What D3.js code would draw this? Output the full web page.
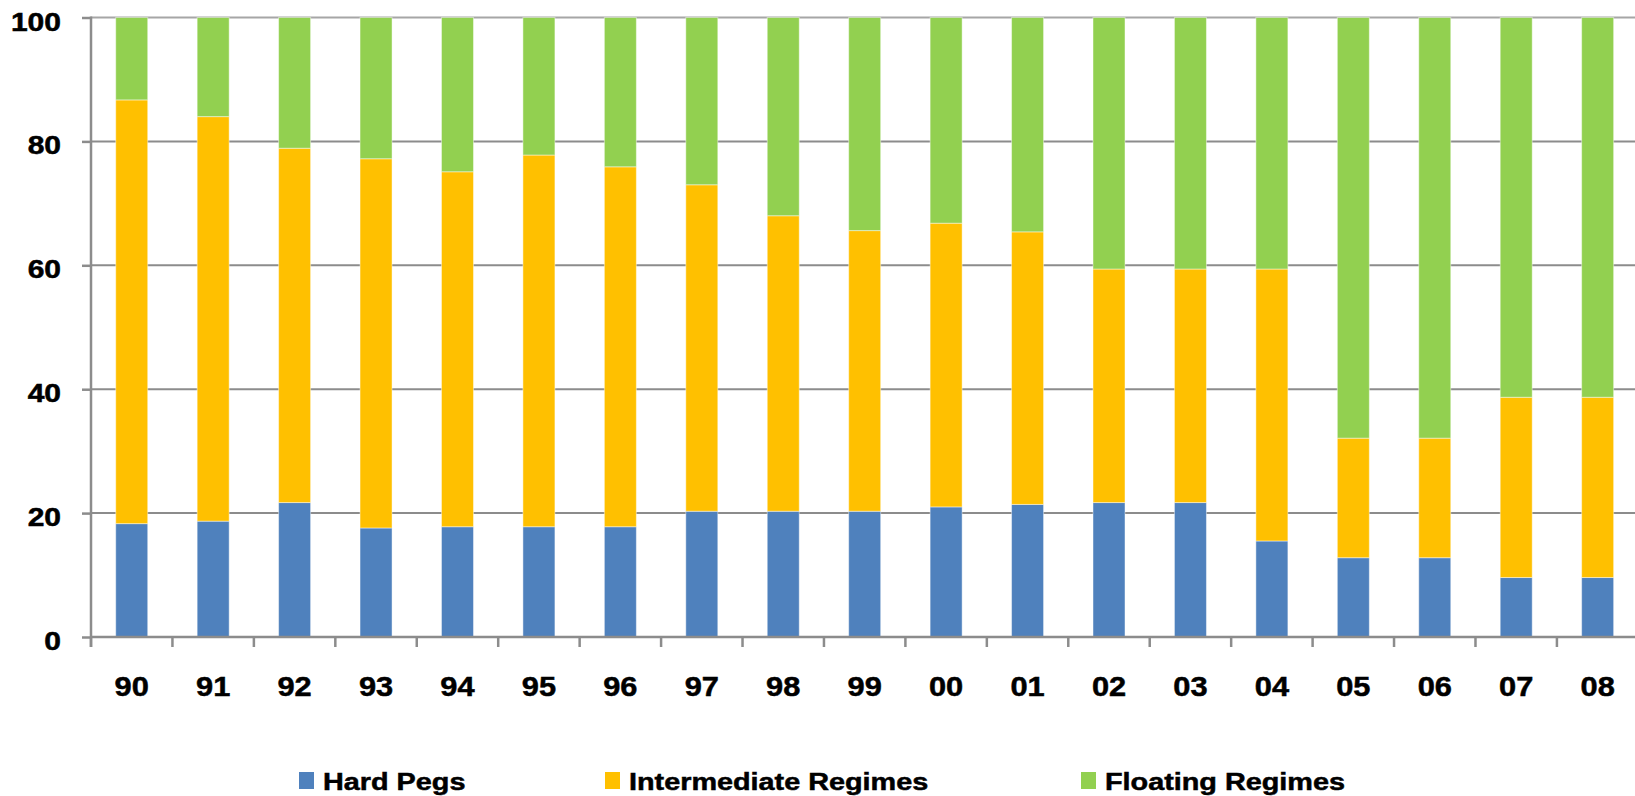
<!DOCTYPE html>
<html>
<head>
<meta charset="utf-8">
<script src="https://cdn.jsdelivr.net/npm/d3@7"></script>
<style>
  body { margin: 0; background: #fff; }
  svg { display: block; font-family: "Liberation Sans", Arial, sans-serif; font-weight: bold; }
  text { fill: #000; stroke: #000; stroke-width: 0.5px; }
</style>
</head>
<body>
<div id="chart"></div>
<script>
// Categories (years)
const years = ["90", "91", "92", "93", "94", "95", "96", "97", "98", "99",
  "00", "01", "02", "03", "04", "05", "06", "07", "08"];

// Series values (percent of countries)
const hardPegs = [18.3, 18.7, 21.7, 17.6, 17.8, 17.8, 17.8, 20.3, 20.3, 20.3,
  21.0, 21.4, 21.7, 21.7, 15.5, 12.8, 12.8, 9.6, 9.6];
const intermediate = [68.4, 65.3, 57.2, 59.6, 57.3, 60.0, 58.1, 52.7, 47.7, 45.3,
  45.8, 44.0, 37.7, 37.7, 43.9, 19.3, 19.3, 29.1, 29.1];
const floating = [13.3, 16.0, 21.1, 22.8, 24.9, 22.2, 24.1, 27.0, 32.0, 34.4,
  33.2, 34.6, 40.6, 40.6, 40.6, 67.9, 67.9, 61.3, 61.3];

// Tick labels and legend names
const yTicks = [0, 20, 40, 60, 80, 100];
const seriesNames = ["Hard Pegs", "Intermediate Regimes", "Floating Regimes"];
const seriesKeys = ["hard", "inter", "float"];
const colors = ["#4f81bd", "#ffc000", "#92d050"];

const width = 1635;
const height = 796;
const plotLeft = 91;
const plotTop = 17.5;
const plotBottom = 637;
const bandStep = 81.44;
const axisColor = "#8c8c8c";

const rows = years.map((yr, i) => ({
  year: yr, hard: hardPegs[i], inter: intermediate[i], float: floating[i]
}));

const svg = d3.select("#chart").append("svg")
  .attr("width", width)
  .attr("height", height);

const x = d3.scaleBand()
  .domain(years)
  .range([plotLeft, plotLeft + bandStep * years.length]);

const y = d3.scaleLinear()
  .domain([0, 100])
  .range([plotBottom, plotTop]);

// Gridlines
svg.append("g")
  .selectAll("line")
  .data(yTicks.filter(d => d > 0))
  .join("line")
  .attr("x1", plotLeft)
  .attr("x2", width)
  .attr("y1", d => y(d))
  .attr("y2", d => y(d))
  .attr("stroke", d => d === 100 ? "#a6a6a6" : axisColor)
  .attr("stroke-width", 2);

// Stacked bars
const stack = d3.stack().keys(seriesKeys)(rows);
const barW = x.bandwidth() * 0.393;

svg.append("g")
  .selectAll("g")
  .data(stack)
  .join("g")
  .attr("fill", (d, i) => colors[i])
  .selectAll("rect")
  .data(d => d)
  .join("rect")
  .attr("x", d => x(d.data.year) + (x.bandwidth() - barW) / 2)
  .attr("y", d => y(d[1]))
  .attr("width", barW)
  .attr("height", d => y(d[0]) - y(d[1]))
  .attr("stroke", "rgba(255,255,255,0.45)")
  .attr("stroke-width", 1);

// Y axis
const yAxis = svg.append("g")
  .attr("transform", `translate(${plotLeft},0)`)
  .call(d3.axisLeft(y).tickValues(yTicks).tickSize(9).tickFormat(""));
yAxis.select(".domain").remove();
yAxis.selectAll("line").attr("stroke", axisColor).attr("stroke-width", 2.5);
svg.append("line")
  .attr("x1", plotLeft).attr("x2", plotLeft)
  .attr("y1", plotTop - 1).attr("y2", plotBottom + 10)
  .attr("stroke", axisColor)
  .attr("stroke-width", 2.5);

svg.append("g")
  .selectAll("text")
  .data(yTicks)
  .join("text")
  .attr("transform", d => `translate(61,${y(d) + 13}) scale(1.2,1)`)
  .attr("text-anchor", "end")
  .attr("font-size", "25px")
  .text(d => d);

// X axis (ticks at band edges)
svg.append("line")
  .attr("x1", plotLeft).attr("x2", width)
  .attr("y1", plotBottom).attr("y2", plotBottom)
  .attr("stroke", axisColor)
  .attr("stroke-width", 2.5);

svg.append("g")
  .selectAll("line")
  .data(years)
  .join("line")
  .attr("x1", d => x(d))
  .attr("x2", d => x(d))
  .attr("y1", plotBottom)
  .attr("y2", plotBottom + 10)
  .attr("stroke", axisColor)
  .attr("stroke-width", 2.5);

svg.append("g")
  .selectAll("text")
  .data(years)
  .join("text")
  .attr("transform", d => `translate(${x(d) + x.bandwidth() / 2},696) scale(1.1,1)`)
  .attr("text-anchor", "middle")
  .attr("font-size", "28px")
  .text(d => d);

// Legend
const legendX = [299, 605, 1081];
const legend = svg.append("g")
  .selectAll("g")
  .data(seriesNames)
  .join("g")
  .attr("transform", (d, i) => `translate(${legendX[i]},772)`);

legend.append("rect")
  .attr("width", 15)
  .attr("height", 17)
  .attr("fill", (d, i) => colors[i]);

legend.append("text")
  .attr("transform", "translate(24,17.5) scale(1.2,1)")
  .attr("font-size", "24px")
  .text(d => d);
</script>
</body>
</html>
